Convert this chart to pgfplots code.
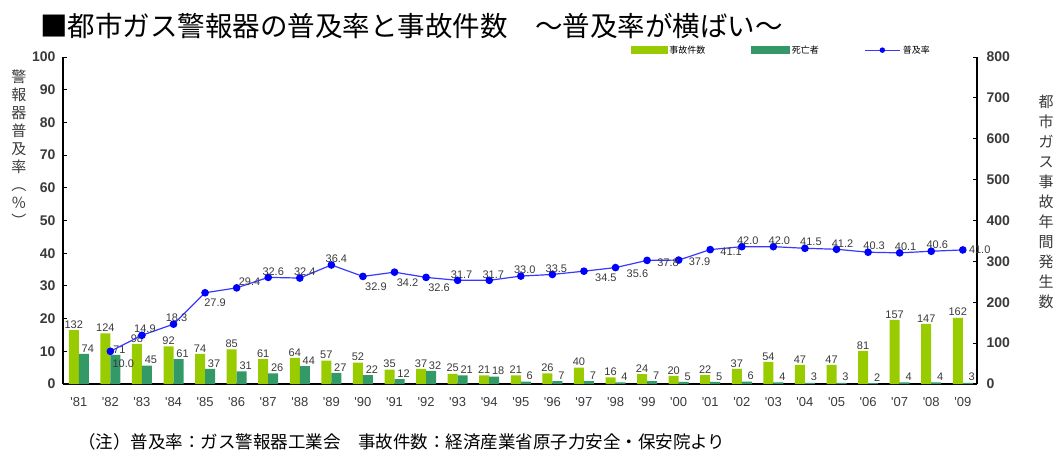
\documentclass[border=0pt]{standalone}
\usepackage{pgfplots}
\pgfplotsset{compat=1.18}
\usepackage{pgfplotstable}
\usepackage{fontspec}
\setmainfont{Noto Sans CJK JP}
\newfontfamily\numfont{Liberation Sans}
\definecolor{accgreen}{HTML}{99CC00}
\definecolor{deathgreen}{HTML}{339966}
\definecolor{lineblue}{HTML}{3838FF}
\definecolor{dotblue}{HTML}{0000FF}
\definecolor{txtgray}{HTML}{3A3A3A}

\pgfplotstableread{
x acc death
0 132 74
1 124 71
2 98 45
3 92 61
4 74 37
5 85 31
6 61 26
7 64 44
8 57 27
9 52 22
10 35 12
11 37 32
12 25 21
13 21 18
14 21 6
15 26 7
16 40 7
17 16 4
18 24 7
19 20 5
20 22 5
21 37 6
22 54 4
23 47 3
24 47 3
25 81 2
26 157 4
27 147 4
28 162 3
}\accdata

\pgfplotstableread{
x rate
1 10.0
2 14.9
3 18.3
4 27.9
5 29.4
6 32.6
7 32.4
8 36.4
9 32.9
10 34.2
11 32.6
12 31.7
13 31.7
14 33.0
15 33.5
16 34.5
17 35.6
18 37.8
19 37.9
20 41.1
21 42.0
22 42.0
23 41.5
24 41.2
25 40.3
26 40.1
27 40.6
28 41.0
}\ratedata

\pgfplotsset{
  rlbl/.style 2 args={forget plot, draw=none, mark=none,
    restrict x to domain=#1,
    nodes near coords={\pgfmathprintnumber[fixed, fixed zerofill, precision=1]{\pgfplotspointmeta}},
    every node near coord/.append style={font=\numfont\fontsize{11}{11}\selectfont, text=txtgray, inner sep=2pt, #2}},
}

\begin{document}
\begin{tikzpicture}
\path[use as bounding box] (0pt,0pt) rectangle (1057pt,450pt);

% bars (right axis)
\begin{axis}[
  at={(63pt,66pt)}, anchor=south west,
  scale only axis, width=914pt, height=327pt,
  xmin=-0.5, xmax=28.45,
  ymin=0, ymax=800, ytick={0,100,...,800},
  axis y line*=right, axis x line*=bottom,
  axis line style={line width=1.2pt, black, -},
  xtick={0,...,28},
  xticklabels={'81,'82,'83,'84,'85,'86,'87,'88,'89,'90,'91,'92,'93,'94,'95,'96,'97,'98,'99,'00,'01,'02,'03,'04,'05,'06,'07,'08,'09},
  major x tick style={draw=none},
  extra x ticks={0.5,1.5,...,27.5},
  extra x tick labels={},
  extra x tick style={major tick length=3pt, tick align=inside, tick style={black, line width=0.6pt}},
  tick align=inside, major tick length=4pt,
  y tick style={black, line width=0.8pt},
  /pgf/number format/assume math mode=true,
  yticklabel style={font=\numfont\bfseries\fontsize{14}{14}\selectfont, text=txtgray, xshift=6pt},
  xticklabel style={font=\numfont\fontsize{13}{13}\selectfont, text=txtgray, yshift=-6pt},
  ybar=0pt, bar width=10pt,
  clip=false,
]
\addplot[fill=accgreen, draw=none,
  nodes near coords,
  every node near coord/.append style={font=\numfont\fontsize{11}{11}\selectfont, text=txtgray, anchor=south, inner sep=1.5pt}]
  table[x=x, y=acc] {\accdata};
\addplot[fill=deathgreen, draw=none,
  nodes near coords,
  every node near coord/.append style={font=\numfont\fontsize{11}{11}\selectfont, text=txtgray, anchor=south, xshift=4pt, inner sep=1.5pt}]
  table[x=x, y=death] {\accdata};
\end{axis}

% line (left axis)
\begin{axis}[
  at={(63pt,66pt)}, anchor=south west,
  scale only axis, width=914pt, height=327pt,
  xmin=-0.5, xmax=28.45,
  ymin=0, ymax=100, ytick={0,10,...,100},
  axis y line*=left, axis x line=none,
  axis line style={line width=1.2pt, black, -},
  tick align=inside, major tick length=4pt,
  y tick style={black, line width=0.8pt},
  /pgf/number format/assume math mode=true,
  yticklabel style={font=\numfont\bfseries\fontsize{14}{14}\selectfont, text=txtgray, xshift=-4pt},
  clip=false,
  legend style={at={(0.618,1.021)}, anchor=west, draw=none, fill=none,
    font=\fontsize{9}{10}\selectfont, legend columns=3,
    /tikz/every even column/.append style={column sep=44pt}},
  legend cell align=left,
]
\addlegendimage{legend image code/.code={\fill[accgreen] (0pt,-3.5pt) rectangle (36pt,3.5pt);}}
\addlegendentry{事故件数}
\addlegendimage{legend image code/.code={\fill[deathgreen] (0pt,-3.5pt) rectangle (38pt,3.5pt);}}
\addlegendentry{死亡者}
\addlegendimage{legend image code/.code={\draw[lineblue, line width=1pt, mark=*, mark size=2.2pt, mark options={fill=dotblue, draw=dotblue}, mark repeat=2, mark phase=2] plot coordinates {(0pt,0pt) (17pt,0pt) (35pt,0pt)};}}
\addlegendentry{普及率}
\addplot[forget plot, lineblue, line width=1.2pt, mark=*, mark size=3.2pt,
  mark options={fill=dotblue, draw=dotblue}]
  table[x=x, y=rate] {\ratedata};
% value labels of the same series, placed group by group
\addplot[rlbl={0.5:1.5}{anchor=north west, yshift=-6pt}] table[x=x, y=rate] {\ratedata};
\addplot[rlbl={1.5:3.5}{anchor=south, xshift=3pt}] table[x=x, y=rate] {\ratedata};
\addplot[rlbl={3.5:4.5}{anchor=north, xshift=10pt, yshift=-4pt}] table[x=x, y=rate] {\ratedata};
\addplot[rlbl={4.5:5.5}{anchor=south west}] table[x=x, y=rate] {\ratedata};
\addplot[rlbl={5.5:8.5}{anchor=south, xshift=5pt}] table[x=x, y=rate] {\ratedata};
\addplot[rlbl={8.5:11.5}{anchor=north, xshift=13pt, yshift=-4pt}] table[x=x, y=rate] {\ratedata};
\addplot[rlbl={11.5:15.5}{anchor=south, xshift=4pt}] table[x=x, y=rate] {\ratedata};
\addplot[rlbl={15.5:17.5}{anchor=north west, xshift=9pt}] table[x=x, y=rate] {\ratedata};
\addplot[rlbl={17.5:20.5}{anchor=north west, xshift=8pt, yshift=4pt}] table[x=x, y=rate] {\ratedata};
\addplot[rlbl={20.5:27.5}{anchor=south, xshift=6pt}] table[x=x, y=rate] {\ratedata};
\addplot[rlbl={27.5:28.5}{anchor=west, xshift=4pt}] table[x=x, y=rate] {\ratedata};
\end{axis}

\node[anchor=west, font=\fontsize{27.5}{27.5}\selectfont, inner sep=0pt] at (40pt,424pt) {■都市ガス警報器の普及率と事故件数　～普及率が横ばい～};
\node[anchor=west, font=\fontsize{17.5}{17.5}\selectfont, inner sep=0pt] at (78pt,8pt) {（注）普及率：ガス警報器工業会　事故件数：経済産業省原子力安全・保安院より};
\node[align=center, font=\fontsize{15}{18}\selectfont, text=txtgray] at (19pt,302pt) {警\\報\\器\\普\\及\\率\\︵\\％\\︶};
\node[align=center, font=\fontsize{15}{20}\selectfont, text=txtgray] at (1046pt,248pt) {都\\市\\ガ\\ス\\事\\故\\年\\間\\発\\生\\数};
\end{tikzpicture}
\end{document}
